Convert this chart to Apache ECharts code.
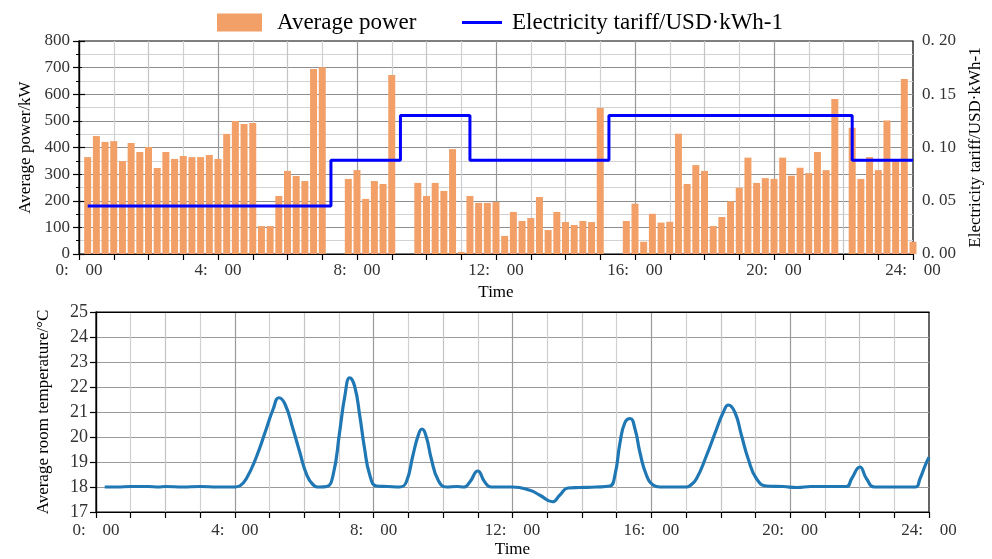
<!DOCTYPE html>
<html>
<head>
<meta charset="utf-8">
<script src="https://cdn.jsdelivr.net/npm/echarts@6/dist/echarts.min.js"></script>
<style>
html,body{margin:0;padding:0;background:#fff;}
#c{width:992px;height:559px;}
</style>
</head>
<body>
<div id="c"></div>
<script>
// ---- Data ----
// Average power, one bar every 15 min, from 0:15 to 24:00 (kW)
const powerTimes = [];
for (let k = 1; k <= 96; k++) powerTimes.push(k * 0.25);
const powerValues = [
  364, 443, 421, 424, 349, 417, 383, 402, 323, 383, 357, 368, 364, 364, 372, 357,
  451, 500, 488, 492, 105, 105, 218, 312, 293, 274, 695, 701, 0, 0, 282, 315,
  207, 274, 263, 672, 0, 0, 267, 218, 267, 237, 394, 8, 218, 192,
  192, 195, 68, 158, 124, 135, 214, 90, 158, 120, 109, 124, 120, 548, 0, 0,
  124, 189, 46, 151, 118, 121, 452, 263, 334, 312, 105, 139, 198, 249, 362, 267,
  285, 282, 362, 294, 324, 304, 383, 315, 582, 0, 474, 282, 364, 315, 501, 350,
  657, 46
];
// Electricity tariff (USD/kWh), step changes
const tariffTimes = [0.25, 7.25, 9.25, 11.25, 15.25, 22.25, 24];
const tariffValues = [0.045, 0.088, 0.13, 0.088, 0.13, 0.088, 0.088];
// Average room temperature (°C)
const tempTimes = [0.25,0.6,1.0,1.5,1.8,2.0,2.5,3.0,3.5,4.0,4.15,4.33,4.62,4.9,5.1,5.27,5.45,5.68,5.87,6.06,6.25,6.45,6.65,6.83,7.02,7.17,7.31,7.45,7.6,7.74,7.89,8.08,8.4,8.75,8.94,9.13,9.28,9.39,9.52,9.66,9.86,10.1,10.4,10.6,10.77,11.0,11.2,11.39,12.0,12.5,12.79,13.15,13.36,13.6,13.94,14.4,14.8,14.95,15.1,15.24,15.39,15.53,15.67,15.86,16.06,16.25,17.0,17.11,17.3,17.59,17.88,18.07,18.22,18.41,18.6,18.79,19.03,19.32,19.8,20.2,20.6,21.62,21.77,22.01,22.2,22.44,23.6,23.74,23.89,24.0];
const tempValues = [18.0,18.0,18.02,18.02,18.0,18.02,18.0,18.02,18.0,18.0,18.05,18.33,19.2,20.3,21.1,21.57,21.3,20.3,19.4,18.53,18.1,18.0,18.02,18.47,20.2,21.64,22.37,22.04,20.85,19.52,18.47,18.04,18.02,18.0,18.2,19.26,20.05,20.32,19.99,19.13,18.27,18.0,18.02,18.0,18.2,18.64,18.2,18.0,18.0,17.87,17.67,17.41,17.67,17.96,17.98,18.0,18.04,18.47,19.79,20.58,20.74,20.32,19.39,18.47,18.07,18.0,18.0,18.05,18.33,19.26,20.32,20.98,21.28,20.98,20.05,19.13,18.33,18.04,18.02,17.98,18.02,18.02,18.33,18.8,18.33,18.0,18.0,18.33,18.86,19.19];
const hourTicks = [0, 4, 8, 12, 16, 20, 24];

// ---- Build ----
const FONT = "'Liberation Serif', 'DejaVu Serif', serif";
const chart = echarts.init(document.getElementById('c'), null, {renderer: 'canvas'});
const timeLabel = v => (hourTicks.indexOf(v) >= 0 ? v + ':\u2003' + '00' : '');
const labelStyle = {color: '#333', fontFamily: FONT, fontSize: 17};
const nameStyle = {color: '#000', fontFamily: FONT, fontSize: 17};
const blackLine = {show: true, lineStyle: {color: '#000', width: 1.2}};

function xAxisDef(gridIndex, nameGap, margin) {
  return {
    type: 'value', gridIndex, min: 0, max: 24, interval: 1,
    name: 'Time', nameLocation: 'middle', nameGap, nameTextStyle: nameStyle,
    axisLine: blackLine,
    axisTick: {show: true, length: 6, lineStyle: {color: '#000', width: 1.2}},
    axisLabel: {formatter: timeLabel, margin, ...labelStyle, showMinLabel: true, showMaxLabel: true},
    splitLine: {show: true, showMinLine: false, showMaxLine: false,
      lineStyle: {color: ['#cfcfcf', '#c4c4c4', '#cfcfcf', '#9a9a9a'], width: 1.2}}
  };
}
// frame-only axes (top / right edges drawn black)
function frameX(gridIndex) {
  return {type: 'value', gridIndex, position: 'top', min: 0, max: 24,
    axisLine: blackLine, axisTick: {show: false}, axisLabel: {show: false}, splitLine: {show: false}};
}

const tariffName = 'Electricity tariff/USD\u00B7kWh-1';
const legendText = {fontFamily: FONT, fontSize: 23, color: '#000', padding: [0, 0, 0, 10]};

const option = {
  animation: false,
  backgroundColor: '#fff',
  legend: [
    {left: 212, top: 6, itemWidth: 45, itemHeight: 18, textStyle: legendText,
     data: [{name: 'Average power', icon: 'rect'}]},
    {left: 457, top: 6, itemWidth: 40, itemHeight: 3, textStyle: {...legendText, padding: [0, 0, 0, 5]},
     data: [{name: tariffName, icon: 'rect'}]}
  ],
  grid: [
    {left: 79, top: 41, width: 840, height: 213, show: true, borderColor: '#000', borderWidth: 1.2, backgroundColor: 'transparent'},
    {left: 96, top: 312, width: 833, height: 202, show: true, borderColor: '#000', borderWidth: 1.2, backgroundColor: 'transparent'}
  ],
  xAxis: [xAxisDef(0, 30, 8), xAxisDef(1, 29, 10), frameX(0), frameX(1)],
  yAxis: [
    {
      type: 'value', gridIndex: 0, min: 0, max: 800, interval: 100,
      name: 'Average power/kW', nameLocation: 'middle', nameGap: 44, nameRotate: 90, nameTextStyle: nameStyle,
      axisLine: blackLine,
      axisTick: {show: true, length: 6, lineStyle: {color: '#000', width: 1.2}},
      minorTick: {show: true, splitNumber: 2, length: 3, lineStyle: {color: '#000', width: 1}},
      axisLabel: {margin: 9, ...labelStyle},
      splitLine: {show: true, showMinLine: false, showMaxLine: false, lineStyle: {color: '#8e8e8e', width: 1.2}},
      minorSplitLine: {show: true, lineStyle: {color: '#d2d2d2', width: 1.2}}
    },
    {
      type: 'value', gridIndex: 0, min: 0, max: 0.2, interval: 0.05, position: 'right',
      name: tariffName, nameLocation: 'middle', nameGap: 54, nameRotate: 90, nameTextStyle: nameStyle,
      axisLine: blackLine,
      axisTick: {show: true, length: 6, lineStyle: {color: '#000', width: 1.2}},
      minorTick: {show: true, splitNumber: 2, length: 3, lineStyle: {color: '#000', width: 1}},
      axisLabel: {margin: 9, ...labelStyle, formatter: v => v.toFixed(2).replace('.', '. ')},
      splitLine: {show: false}
    },
    {
      type: 'value', gridIndex: 1, min: 17, max: 25, interval: 1,
      name: 'Average room temperature/\u00B0C', nameLocation: 'middle', nameGap: 44, nameRotate: 90, nameTextStyle: nameStyle,
      axisLine: blackLine,
      axisTick: {show: true, length: 6, lineStyle: {color: '#000', width: 1.2}},
      axisLabel: {margin: 8, ...labelStyle, fontSize: 18},
      splitLine: {show: true, showMinLine: false, showMaxLine: false, lineStyle: {color: '#9a9a9a', width: 1.2}}
    },
    {
      type: 'value', gridIndex: 1, position: 'right', min: 17, max: 25,
      axisLine: blackLine, axisTick: {show: false}, axisLabel: {show: false}, splitLine: {show: false}
    }
  ],
  series: [
    {
      name: 'Average power', type: 'bar', xAxisIndex: 0, yAxisIndex: 0, barWidth: 7,
      itemStyle: {color: '#F2A068'},
      data: powerTimes.map((t, i) => [t, powerValues[i]]),
      z: 2
    },
    {
      name: tariffName, type: 'line', xAxisIndex: 0, yAxisIndex: 1,
      step: 'end', symbol: 'none', showSymbol: false, lineStyle: {color: '#0000FF', width: 3}, itemStyle: {color: '#0000FF'},
      data: tariffTimes.map((t, i) => [t, tariffValues[i]]),
      z: 3
    },
    {
      name: 'temp', type: 'line', xAxisIndex: 1, yAxisIndex: 2, smooth: 0.5,
      symbol: 'none', lineStyle: {color: '#1f77b4', width: 3.2}, itemStyle: {color: '#1f77b4'},
      data: tempTimes.map((t, i) => [t, tempValues[i]]),
      z: 3
    }
  ]
};
chart.setOption(option);
</script>
</body>
</html>
